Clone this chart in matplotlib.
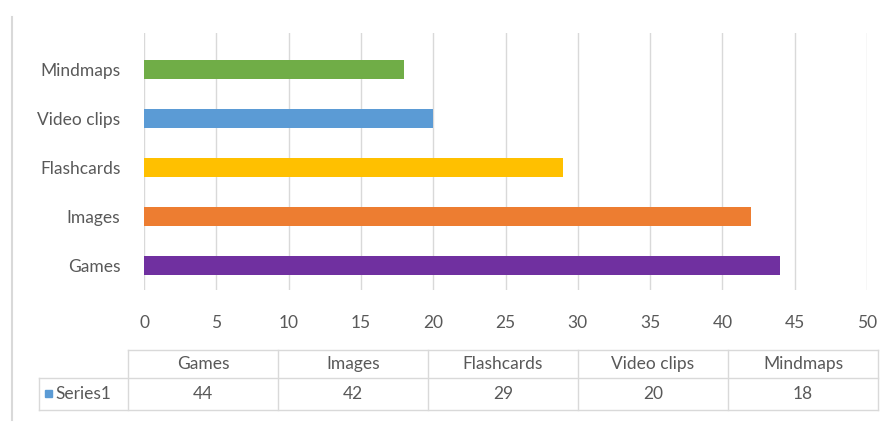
import matplotlib.pyplot as plt
from matplotlib.patches import Rectangle

plt.rcParams['font.family'] = ['Lato', 'DejaVu Sans']

categories = ['Games', 'Images', 'Flashcards', 'Video clips', 'Mindmaps']
values = [44, 42, 29, 20, 18]
colors = ['#7030a0', '#ed7d31', '#ffc000', '#5b9bd5', '#70ad47']
series_name = 'Series1'
x_ticks = [0, 5, 10, 15, 20, 25, 30, 35, 40, 45, 50]

text_col = '#595959'
grid_col = '#d9d9d9'
fs = 12.5

W, H = 890, 430
fig = plt.figure(figsize=(W / 100, H / 100), dpi=100)

# bar chart area
ax = fig.add_axes([144 / W, (H - 290) / H, (867 - 144) / W, (290 - 33) / H])
ax.barh(range(len(categories)), values, height=0.39, color=colors, zorder=3)
ax.set_xlim(0, 50)
ax.set_ylim(-0.5, 4.75)
ax.set_xticks(x_ticks)
ax.set_xticklabels([str(t) for t in x_ticks])
ax.set_yticks(range(len(categories)))
ax.set_yticklabels(categories)
ax.tick_params(axis='both', length=0, labelsize=fs, labelcolor=text_col)
ax.tick_params(axis='x', pad=18)
ax.tick_params(axis='y', pad=17)
ax.grid(axis='x', color=grid_col, linewidth=1, zorder=0)
for s in ax.spines.values():
    s.set_visible(False)

# data table underneath, drawn in pixel coordinates
tab = fig.add_axes([0, 0, 1, 1])
tab.set_xlim(0, W)
tab.set_ylim(H, 0)
tab.axis('off')

left, col_w = 128, 150
top, mid, bot = 350, 378, 410
right = left + col_w * len(categories)
lw = 1
tab.plot([left, right], [top, top], color=grid_col, lw=lw)
tab.plot([39, right], [mid, mid], color=grid_col, lw=lw)
tab.plot([39, right], [bot, bot], color=grid_col, lw=lw)
tab.plot([39, 39], [mid, bot], color=grid_col, lw=lw)
for i in range(len(categories) + 1):
    x = left + i * col_w
    tab.plot([x, x], [top, bot], color=grid_col, lw=lw)
for i, (c, v) in enumerate(zip(categories, values)):
    cx = left + i * col_w + col_w / 2
    tab.text(cx, (top + mid) / 2, c, ha='center', va='center', fontsize=fs, color=text_col)
    tab.text(cx, (mid + bot) / 2, str(v), ha='center', va='center', fontsize=fs, color=text_col)
tab.add_patch(Rectangle((45, 390), 7, 7, color='#5b9bd5'))
tab.text(55, (mid + bot) / 2, series_name, ha='left', va='center', fontsize=fs, color=text_col)

# chart area edge on the left
tab.plot([12, 12], [17, 420], color=grid_col, lw=1.5)

fig.savefig('out.png', dpi=100, facecolor='white')
